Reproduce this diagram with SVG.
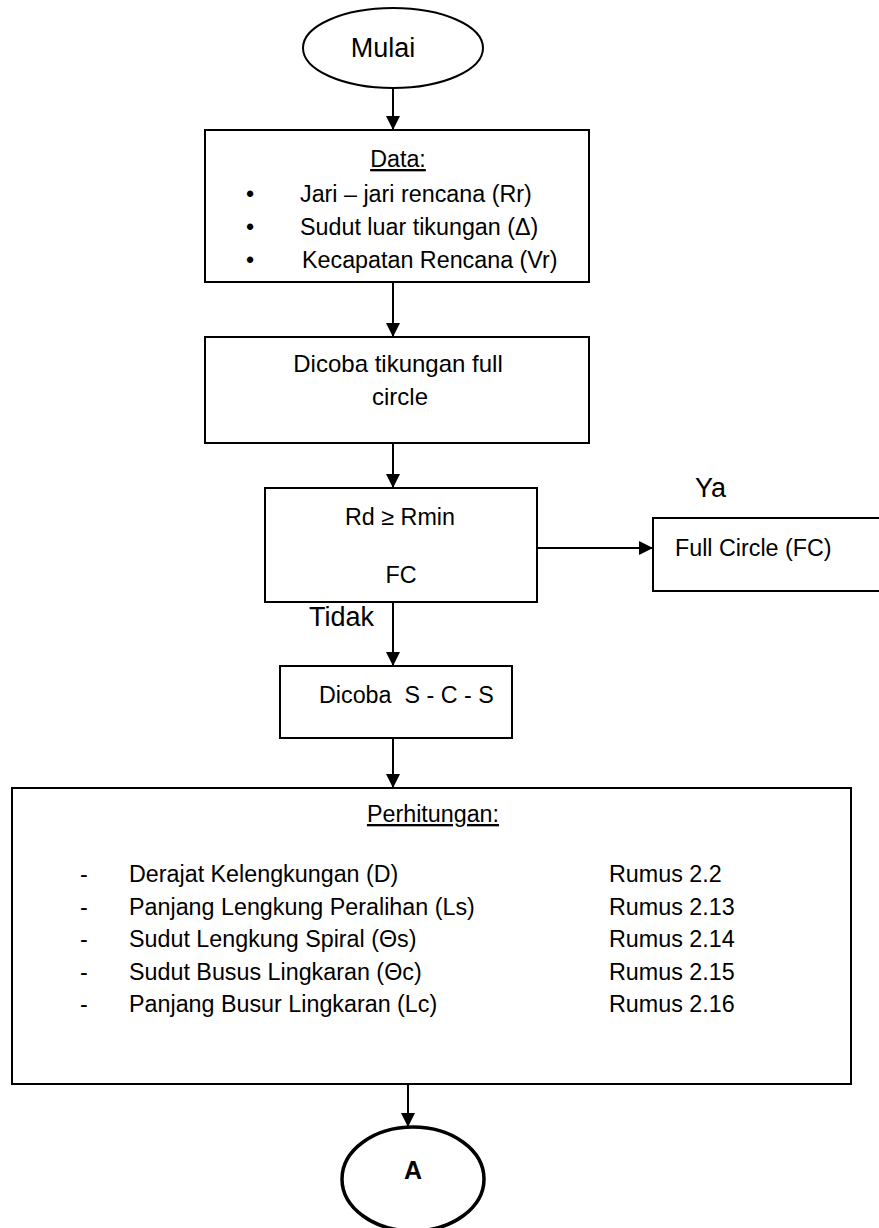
<svg xmlns="http://www.w3.org/2000/svg" width="879" height="1228" viewBox="0 0 879 1228">
  <style>
    .shape { fill: #ffffff; stroke: #000000; stroke-width: 2; }
    .thick { fill: #ffffff; stroke: #000000; stroke-width: 3.5; }
    .edge { fill: none; stroke: #000000; stroke-width: 2; marker-end: url(#head); }
    text { font-family: "Liberation Sans", Arial, sans-serif; fill: #000000; }
    .t { font-size: 23.3px; }
    .mid { text-anchor: middle; }
    .big { font-size: 27px; }
    .ul { text-decoration: underline; }
  </style>
  <defs>
    <marker id="head" markerUnits="userSpaceOnUse" markerWidth="14" markerHeight="14" refX="14" refY="7" orient="auto">
      <path d="M0,0 L14,7 L0,14 Z" fill="#000000"/>
    </marker>
  </defs>

  <rect width="879" height="1228" fill="#ffffff"/>

  <!-- connectors -->
  <g id="connectors">
    <line class="edge" x1="393" y1="88" x2="393" y2="130"/>
    <line class="edge" x1="393" y1="282" x2="393" y2="337"/>
    <line class="edge" x1="393" y1="443" x2="393" y2="488"/>
    <line class="edge" x1="537" y1="548" x2="653" y2="548"/>
    <line class="edge" x1="393" y1="602" x2="393" y2="666"/>
    <line class="edge" x1="393" y1="738" x2="393" y2="788"/>
    <line class="edge" x1="408" y1="1084" x2="408" y2="1127"/>
    <text class="big" x="695" y="497">Ya</text>
    <text class="big" x="309" y="626">Tidak</text>
  </g>

  <!-- start terminator -->
  <g id="start">
    <ellipse class="shape" cx="393" cy="48" rx="90" ry="40"/>
    <text class="big mid" x="383" y="57">Mulai</text>
  </g>

  <!-- input data -->
  <g id="data">
    <rect class="shape" x="205" y="130" width="384" height="152"/>
    <text class="t mid ul" x="398" y="167">Data:</text>
    <text class="t mid" x="250" y="202">•</text>
    <text class="t" x="300" y="202">Jari – jari rencana (Rr)</text>
    <text class="t mid" x="250" y="235">•</text>
    <text class="t" x="300" y="235">Sudut luar tikungan (Δ)</text>
    <text class="t mid" x="250" y="268">•</text>
    <text class="t" x="302" y="268">Kecapatan Rencana (Vr)</text>
  </g>

  <!-- try full circle -->
  <g id="try-fc">
    <rect class="shape" x="205" y="337" width="384" height="106"/>
    <text class="mid" font-size="24" x="398" y="372">Dicoba tikungan full</text>
    <text class="mid" font-size="24" x="400" y="405">circle</text>
  </g>

  <!-- radius check -->
  <g id="check">
    <rect class="shape" x="265" y="488" width="272" height="114"/>
    <text class="t mid" x="400" y="525">Rd ≥ Rmin</text>
    <text class="t mid" x="401" y="583">FC</text>
  </g>

  <!-- full circle result -->
  <g id="full-circle">
    <rect class="shape" x="653" y="518" width="240" height="73"/>
    <text class="t" x="675" y="556" font-size="22.5">Full Circle (FC)</text>
  </g>

  <!-- try spiral-circle-spiral -->
  <g id="try-scs">
    <rect class="shape" x="280" y="666" width="232" height="72"/>
    <text class="t" x="319" y="703" font-size="22.3" xml:space="preserve">Dicoba  S - C - S</text>
  </g>

  <!-- calculations -->
  <g id="calc">
    <rect class="shape" x="12" y="788" width="839" height="296"/>
    <text class="t mid ul" x="433" y="822">Perhitungan:</text>
    <text class="t" x="80" y="882">-</text>
    <text class="t" x="129" y="882">Derajat Kelengkungan (D)</text>
    <text class="t" x="609" y="882">Rumus 2.2</text>
    <text class="t" x="80" y="915">-</text>
    <text class="t" x="129" y="915">Panjang Lengkung Peralihan (Ls)</text>
    <text class="t" x="609" y="915">Rumus 2.13</text>
    <text class="t" x="80" y="947">-</text>
    <text class="t" x="129" y="947">Sudut Lengkung Spiral (Θs)</text>
    <text class="t" x="609" y="947">Rumus 2.14</text>
    <text class="t" x="80" y="980">-</text>
    <text class="t" x="129" y="980">Sudut Busus Lingkaran (Θc)</text>
    <text class="t" x="609" y="980">Rumus 2.15</text>
    <text class="t" x="80" y="1012">-</text>
    <text class="t" x="129" y="1012">Panjang Busur Lingkaran (Lc)</text>
    <text class="t" x="609" y="1012">Rumus 2.16</text>
  </g>

  <!-- off-page connector -->
  <g id="connector-a">
    <ellipse class="thick" cx="413" cy="1179" rx="71" ry="52"/>
    <text class="mid" font-size="25" font-weight="bold" x="413" y="1179">A</text>
  </g>
</svg>
